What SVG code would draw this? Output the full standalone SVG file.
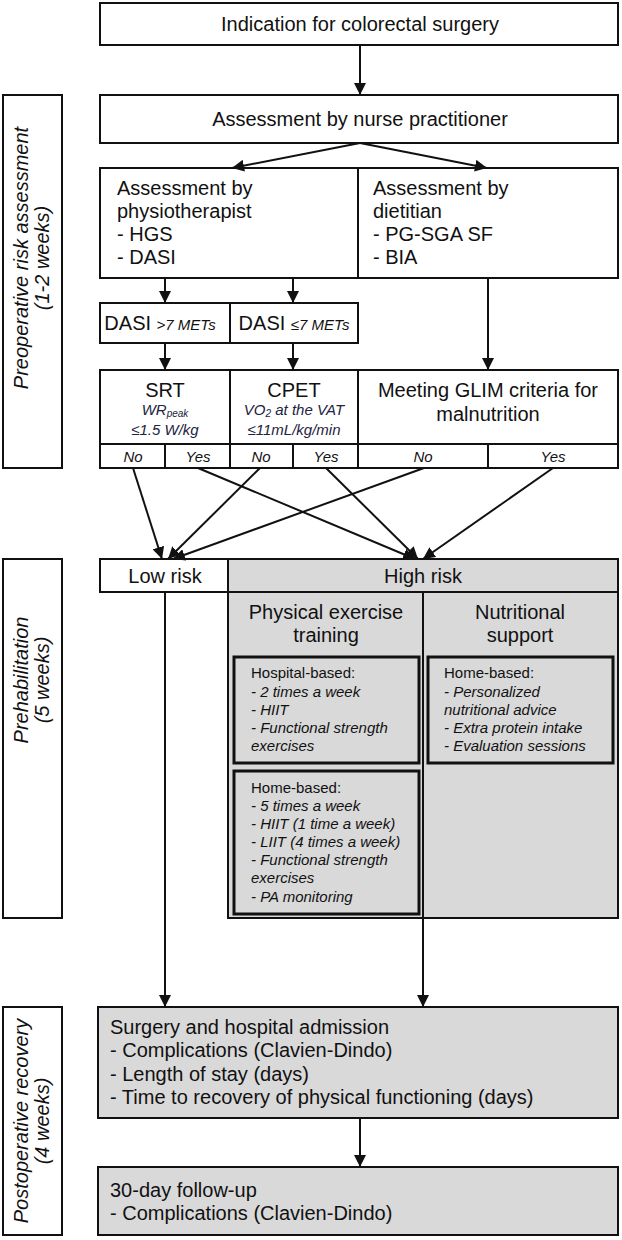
<svg xmlns="http://www.w3.org/2000/svg" width="622" height="1240" viewBox="0 0 622 1240">
<defs>
<marker id="ah" markerWidth="12" markerHeight="12" refX="12" refY="6" orient="auto" markerUnits="userSpaceOnUse">
<path d="M0,0 L12,6 L0,12 z" fill="#111"/>
</marker>
<style>
.box{fill:#fff;stroke:#111;stroke-width:2}
.gray{fill:#d9d9d9;stroke:#111;stroke-width:2}
.inner{fill:#d9d9d9;stroke:#111;stroke-width:3}
.ln{stroke:#111;stroke-width:2;fill:none}
.c{stroke:#111;stroke-width:2;fill:none;marker-end:url(#ah)}
text{font-family:"Liberation Sans",Arial,Helvetica,sans-serif;font-size:20px;fill:#111}
.s{font-size:15px}
.i{font-style:italic}
.m{text-anchor:middle}
.n{fill:#1d2440}
.sub{font-size:10px}
</style>
</defs>
<rect width="622" height="1240" fill="#fff"/>

<g id="phase-preop">
<rect class="box" x="3" y="95" width="59" height="373"/>
<text class="i m" transform="translate(28,258) rotate(-90)">Preoperative risk assessment</text>
<text class="i m" transform="translate(49,258) rotate(-90)">(1-2 weeks)</text>
</g>
<g id="phase-prehab">
<rect class="box" x="3" y="559" width="59" height="359"/>
<text class="i m" transform="translate(28,680) rotate(-90)">Prehabilitation</text>
<text class="i m" transform="translate(49,680) rotate(-90)">(5 weeks)</text>
</g>
<g id="phase-postop">
<rect class="box" x="3" y="1007" width="59" height="228"/>
<text class="i m" transform="translate(28,1121) rotate(-90)">Postoperative recovery</text>
<text class="i m" transform="translate(49,1121) rotate(-90)">(4 weeks)</text>
</g>

<g id="indication">
<rect class="box" x="100" y="3" width="518" height="42"/>
<text class="m" x="360" y="31">Indication for colorectal surgery</text>
</g>
<g id="nurse">
<rect class="box" x="100" y="95" width="518" height="48"/>
<text class="m" x="360" y="126">Assessment by nurse practitioner</text>
</g>
<g id="physio">
<rect class="box" x="100" y="168" width="258" height="110"/>
<text x="117" y="195">Assessment by</text>
<text x="117" y="218">physiotherapist</text>
<text x="117" y="241">- HGS</text>
<text x="117" y="264">- DASI</text>
</g>
<g id="dietitian">
<rect class="box" x="358" y="168" width="260" height="110"/>
<text x="373" y="195">Assessment by</text>
<text x="373" y="218">dietitian</text>
<text x="373" y="241">- PG-SGA SF</text>
<text x="373" y="264">- BIA</text>
</g>
<g id="dasi-high">
<rect class="box" x="100" y="303" width="130" height="40"/>
<text class="m" x="160" y="330">DASI <tspan class="s i">&gt;7 METs</tspan></text>
</g>
<g id="dasi-low">
<rect class="box" x="230" y="303" width="128" height="40"/>
<text class="m" x="294" y="330">DASI <tspan class="s i">≤7 METs</tspan></text>
</g>
<g id="srt">
<rect class="box" x="100" y="370" width="130" height="74"/>
<text class="m" x="165" y="397">SRT</text>
<text class="m s i n" x="165" y="415">WR<tspan class="sub" dy="2">peak</tspan></text>
<text class="m s i n" x="165" y="435">≤1.5 W/kg</text>
<rect class="box" x="100" y="444" width="65" height="24"/>
<rect class="box" x="165" y="444" width="65" height="24"/>
<text class="m s i" x="133" y="462">No</text>
<text class="m s i" x="198" y="462">Yes</text>
</g>
<g id="cpet">
<rect class="box" x="230" y="370" width="128" height="74"/>
<text class="m" x="294" y="397">CPET</text>
<text class="m s i n" x="294" y="415">VO<tspan class="sub" dy="2">2</tspan><tspan dy="-2"> at the VAT</tspan></text>
<text class="m s i n" x="294" y="435">≤11mL/kg/min</text>
<rect class="box" x="230" y="444" width="63" height="24"/>
<rect class="box" x="293" y="444" width="65" height="24"/>
<text class="m s i" x="261" y="462">No</text>
<text class="m s i" x="326" y="462">Yes</text>
</g>
<g id="glim">
<rect class="box" x="358" y="370" width="260" height="74"/>
<text class="m" x="488" y="397">Meeting GLIM criteria for</text>
<text class="m" x="488" y="421">malnutrition</text>
<rect class="box" x="358" y="444" width="130" height="24"/>
<rect class="box" x="488" y="444" width="130" height="24"/>
<text class="m s i" x="423" y="462">No</text>
<text class="m s i" x="553" y="462">Yes</text>
</g>
<g id="low-risk">
<rect class="box" x="100" y="559" width="128" height="33"/>
<text class="m" x="165" y="583">Low risk</text>
</g>
<g id="high-risk">
<rect class="gray" x="228" y="559" width="390" height="359"/>
<line class="ln" x1="228" y1="592" x2="618" y2="592"/>
<line class="ln" x1="423" y1="592" x2="423" y2="918"/>
<text class="m" x="423" y="583">High risk</text>
</g>
<g id="exercise">
<text class="m" x="326" y="619">Physical exercise</text>
<text class="m" x="326" y="642">training</text>
</g>
<g id="nutrition">
<text class="m" x="520" y="619">Nutritional</text>
<text class="m" x="520" y="642">support</text>
</g>
<g id="hospital-based">
<rect class="inner" x="234" y="657" width="185" height="106"/>
<text class="s" x="251" y="678">Hospital-based:</text>
<text class="s i" x="251" y="697">- 2 times a week</text>
<text class="s i" x="251" y="715">- HIIT</text>
<text class="s i" x="251" y="733">- Functional strength</text>
<text class="s i" x="251" y="751">exercises</text>
</g>
<g id="nutrition-home">
<rect class="inner" x="428" y="657" width="185" height="106"/>
<text class="s" x="444" y="678">Home-based:</text>
<text class="s i" x="444" y="697">- Personalized</text>
<text class="s i" x="444" y="715">nutritional advice</text>
<text class="s i" x="444" y="733">- Extra protein intake</text>
<text class="s i" x="444" y="751">- Evaluation sessions</text>
</g>
<g id="exercise-home">
<rect class="inner" x="234" y="771" width="185" height="143"/>
<text class="s" x="251" y="793">Home-based:</text>
<text class="s i" x="251" y="811">- 5 times a week</text>
<text class="s i" x="251" y="829">- HIIT (1 time a week)</text>
<text class="s i" x="251" y="847">- LIIT (4 times a week)</text>
<text class="s i" x="251" y="865">- Functional strength</text>
<text class="s i" x="251" y="883">exercises</text>
<text class="s i" x="251" y="902">- PA monitoring</text>
</g>
<g id="surgery">
<rect class="gray" x="98" y="1007" width="520" height="111"/>
<text x="110" y="1034">Surgery and hospital admission</text>
<text x="110" y="1057">- Complications (Clavien-Dindo)</text>
<text x="110" y="1081">- Length of stay (days)</text>
<text x="110" y="1104">- Time to recovery of physical functioning (days)</text>
</g>
<g id="followup">
<rect class="gray" x="98" y="1167" width="520" height="68"/>
<text x="110" y="1197">30-day follow-up</text>
<text x="110" y="1220">- Complications (Clavien-Dindo)</text>
</g>

<g id="connectors">
<line class="c" x1="360" y1="45" x2="360" y2="95"/>
<line class="c" x1="360" y1="143" x2="232" y2="168"/>
<line class="c" x1="360" y1="143" x2="487" y2="168"/>
<line class="c" x1="165" y1="278" x2="165" y2="303"/>
<line class="c" x1="293" y1="278" x2="293" y2="303"/>
<line class="c" x1="165" y1="343" x2="165" y2="370"/>
<line class="c" x1="293" y1="343" x2="293" y2="370"/>
<line class="c" x1="488" y1="278" x2="488" y2="370"/>
<line class="c" x1="133" y1="468" x2="162" y2="559"/>
<line class="c" x1="198" y1="468" x2="415" y2="559"/>
<line class="c" x1="260" y1="468" x2="168" y2="559"/>
<line class="c" x1="326" y1="468" x2="418" y2="559"/>
<line class="c" x1="424" y1="468" x2="173" y2="559"/>
<line class="c" x1="553" y1="468" x2="423" y2="559"/>
<line class="c" x1="165" y1="592" x2="165" y2="1007"/>
<line class="c" x1="423" y1="918" x2="423" y2="1007"/>
<line class="c" x1="360" y1="1118" x2="360" y2="1167"/>
</g>
</svg>
